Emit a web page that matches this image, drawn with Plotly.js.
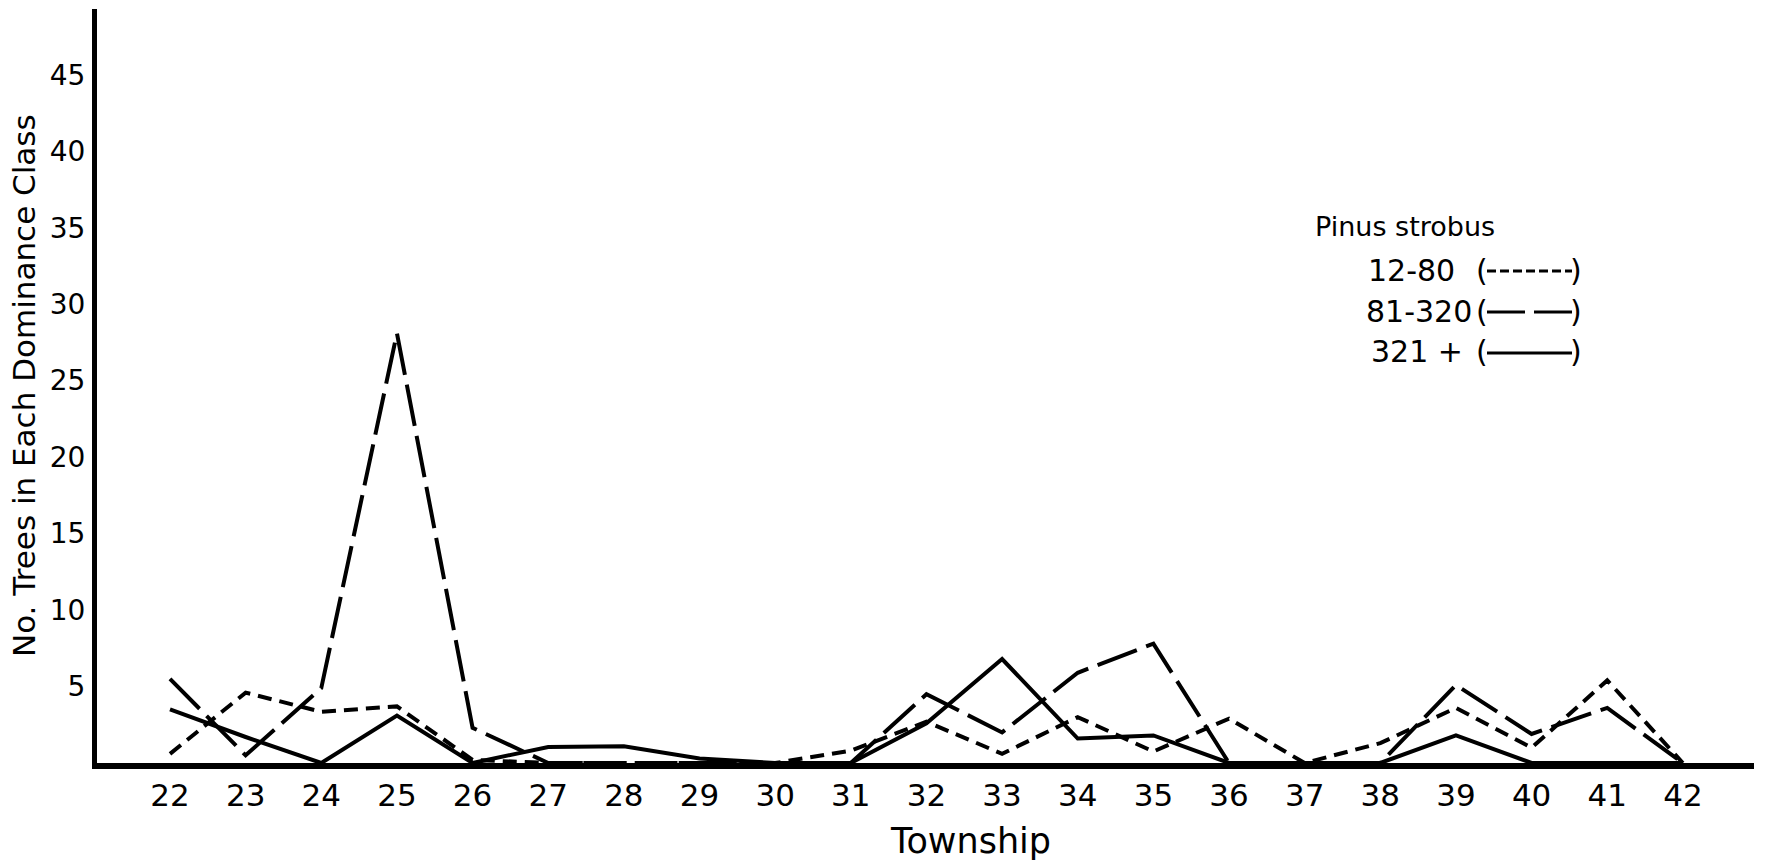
<!DOCTYPE html>
<html>
<head>
<meta charset="utf-8">
<script src="https://cdn.plot.ly/plotly-3.0.1.min.js"></script>
<style>
html, body { margin: 0; padding: 0; background: #ffffff; }
#chart { width: 1768px; height: 867px; }
</style>
</head>
<body>
<div id="chart"></div>
<script>
// Township numbers (x axis)
const townships = [22, 23, 24, 25, 26, 27, 28, 29, 30, 31, 32, 33, 34, 35, 36, 37, 38, 39, 40, 41, 42];
const townshipLabels = townships.map(String);

// Pinus strobus, number of trees in each dominance class
const class12to80   = [0.6, 4.6, 3.35, 3.7, 0.2, 0, 0, 0, 0, 0.8, 2.7, 0.6, 3.0, 0.75, 2.9, 0, 1.3, 3.6, 1.0, 5.4, 0];
const class81to320  = [5.5, 0.5, 4.9, 28.1, 2.3, 0, 0, 0, 0, 0, 4.5, 2.0, 5.9, 7.8, 0, 0, 0, 5.1, 1.9, 3.6, 0];
const class321plus  = [3.5, 1.7, 0, 3.1, 0, 1.05, 1.1, 0.3, 0, 0, 2.6, 6.8, 1.6, 1.8, 0, 0, 0, 1.8, 0, 0, 0];

const yTickVals = [5, 10, 15, 20, 25, 30, 35, 40, 45];
const yTickText = ['5', '10', '15', '20', '25', '30', '35', '40', '45'];

const FONT = 'DejaVu Sans, Liberation Sans, sans-serif';

const traces = [
  { x: townships, y: class12to80, type: 'scatter', mode: 'lines', name: '12-80',
    line: { color: '#000', width: 4, dash: '14px,8px' } },
  { x: townships, y: class81to320, type: 'scatter', mode: 'lines', name: '81-320',
    line: { color: '#000', width: 4, dash: '42px,10px' } },
  { x: townships, y: class321plus, type: 'scatter', mode: 'lines', name: '321 +',
    line: { color: '#000', width: 4 } }
];

// helpers: pixel position -> paper coords (plot area l=97..1754, t=9..763)
const L = 97, R = 1754, T = 9, B = 763;
const px = v => (v - L) / (R - L);
const py = v => (B - v) / (B - T);

function txt(text, xpx, ypx, size, anchor) {
  return { text: text, xref: 'paper', yref: 'paper', x: px(xpx), y: py(ypx),
    xanchor: anchor || 'left', yanchor: 'middle', showarrow: false,
    font: { family: FONT, size: size, color: '#000' } };
}

const annotations = [
  Object.assign(txt('No. Trees in Each Dominance Class', 24, 386, 31, 'center'), { textangle: -90 }),
  txt('Township', 970, 841, 35, 'center'),
  txt('Pinus strobus', 1313, 226, 27),
  txt('12-80', 1366, 271, 30),
  txt('(', 1474, 271, 30),
  txt(')', 1568, 271, 30),
  txt('81-320', 1364, 311, 30),
  txt('(', 1474, 311, 30),
  txt(')', 1568, 311, 30),
  txt('321 +', 1369, 352, 30),
  txt('(', 1474, 352, 30),
  txt(')', 1568, 352, 30)
];

function seg(x0, x1, ypx, dash) {
  return { type: 'line', xref: 'paper', yref: 'paper', x0: px(x0), x1: px(x1), y0: py(ypx), y1: py(ypx),
    line: { color: '#000', width: 3, dash: dash } };
}
const shapes = [
  seg(1487, 1572, 271, '9px,4px'),
  seg(1487, 1572, 312, '38px,9px'),
  seg(1487, 1572, 353, 'solid')
];

const layout = {
  width: 1768, height: 867,
  margin: { l: 97, r: 14, t: 9, b: 104, pad: 0 },
  paper_bgcolor: '#ffffff', plot_bgcolor: '#ffffff',
  showlegend: false,
  font: { family: FONT, color: '#000' },
  xaxis: {
    range: [21.035, 42.94], tickmode: 'array', tickvals: townships, ticktext: townshipLabels,
    showline: true, linewidth: 6, linecolor: '#000', ticks: '', showgrid: false, zeroline: false,
    tickfont: { family: FONT, size: 31, color: '#000' }, ticklabelstandoff: 0
  },
  yaxis: {
    range: [0, 49.3], tickmode: 'array', tickvals: yTickVals, ticktext: yTickText,
    showline: true, linewidth: 5, linecolor: '#000', ticks: '', showgrid: false, zeroline: false,
    tickfont: { family: FONT, size: 28, color: '#000' }, ticklabelstandoff: 1
  },
  annotations: annotations,
  shapes: shapes
};

Plotly.newPlot('chart', traces, layout, { staticPlot: true, displayModeBar: false });
</script>
</body>
</html>
